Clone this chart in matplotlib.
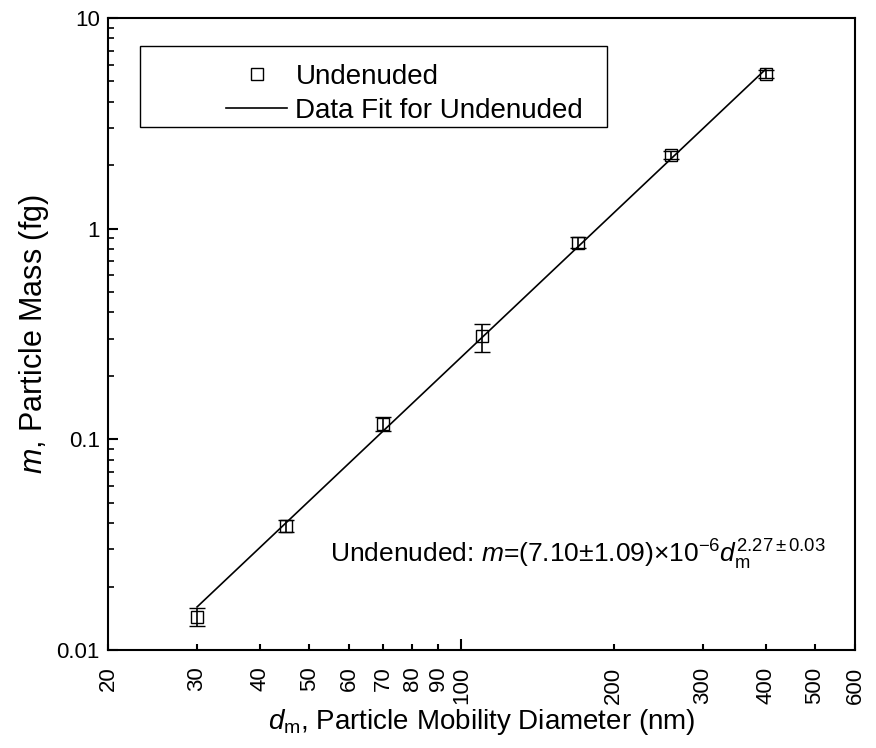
import matplotlib
matplotlib.use("Agg")
import matplotlib.pyplot as plt
import numpy as np
from matplotlib.patches import Rectangle
from matplotlib.lines import Line2D
from matplotlib.ticker import FixedLocator, NullFormatter, NullLocator

plt.rcParams['font.family'] = ['Liberation Sans', 'DejaVu Sans']
plt.rcParams['mathtext.fontset'] = 'custom'
plt.rcParams['mathtext.rm'] = 'Liberation Sans'
plt.rcParams['mathtext.it'] = 'Liberation Sans:italic'
plt.rcParams['mathtext.default'] = 'regular'

# data
diam = [30, 45, 70, 110, 170, 260, 400]
mass = [0.0143, 0.0387, 0.118, 0.308, 0.859, 2.24, 5.43]
err_lo = [0.0013, 0.0025, 0.008, 0.047, 0.05, 0.10, 0.25]
err_hi = [0.0015, 0.0025, 0.009, 0.043, 0.05, 0.10, 0.25]
fit_a = 7.10e-6
fit_b = 2.27
xticks = [20, 30, 40, 50, 60, 70, 80, 90, 100, 200, 300, 400, 500, 600]
yticks = [0.01, 0.1, 1, 10]
ytick_labels = ['0.01', '0.1', '1', '10']

fig = plt.figure(figsize=(8.76, 7.48), dpi=100)
ax = fig.add_axes([108/876, 98/748, 747/876, 632/748])
ax.set_xscale('log')
ax.set_yscale('log')
ax.set_xlim(20, 600)
ax.set_ylim(0.01, 10)

ax.errorbar(diam, mass, yerr=[err_lo, err_hi], fmt='s', mfc='none', mec='black',
            ms=8, mew=1.0, ecolor='black', elinewidth=1.2, capsize=6, capthick=1.2,
            zorder=3)
xf = np.logspace(np.log10(diam[0]), np.log10(diam[-1]), 200)
ax.plot(xf, fit_a * xf**fit_b, color='black', lw=1.2, zorder=2)

ax.xaxis.set_major_locator(FixedLocator(xticks))
ax.set_xticklabels([str(t) for t in xticks], rotation=90, fontsize=16)
ax.xaxis.set_minor_locator(NullLocator())
ax.yaxis.set_major_locator(FixedLocator(yticks))
ax.set_yticklabels(ytick_labels, fontsize=16)
ax.yaxis.set_minor_formatter(NullFormatter())
ax.tick_params(axis='both', which='major', direction='in', length=7.5, width=1.5, pad=6)
ax.tick_params(axis='x', which='major', length=4.5, pad=12)
ax.tick_params(axis='y', which='minor', direction='in', length=4.5, width=1.2)
for t, v in zip(ax.xaxis.get_major_ticks(), xticks):
    if v == 100:
        t.tick1line.set_markersize(8)
for s in ax.spines.values():
    s.set_linewidth(1.5)

ax.set_xlabel('$\\it{d}_{\\rm m}$, Particle Mobility Diameter (nm)', fontsize=20, labelpad=2)
ax.set_ylabel('$\\it{m}$, Particle Mass (fg)', fontsize=22, labelpad=4)

# legend box
x0 = (140 - 108) / 747
y1 = (650 - 46) / 632
y0 = (650 - 127) / 632
x1 = (607 - 108) / 747
ax.add_patch(Rectangle((x0, y0), x1 - x0, y1 - y0, transform=ax.transAxes,
                       fill=False, edgecolor='black', lw=1.0, zorder=4))
handles = [Line2D([], [], marker='s', ls='none', mfc='none', mec='black', ms=8, mew=1.0),
           Line2D([], [], color='black', lw=1.2)]
labels = ['Undenuded', 'Data Fit for Undenuded']
leg = ax.legend(handles, labels, loc='upper left',
                bbox_to_anchor=((226 - 108) / 747, (650 - 64) / 632),
                frameon=False, fontsize=20, handlelength=2.2, handletextpad=0.3,
                labelspacing=0.27, borderpad=0, borderaxespad=0)

ax.text((330 - 108) / 747, (650 - 563) / 632,
        'Undenuded: $\\it{m}$=(7.10$\\pm$1.09)$\\times$10$^{-6}$$\\it{d}_{\\rm m}^{2.27\\pm0.03}$',
        transform=ax.transAxes, fontsize=19, ha='left', va='baseline')

fig.savefig('out.png', dpi=100)
